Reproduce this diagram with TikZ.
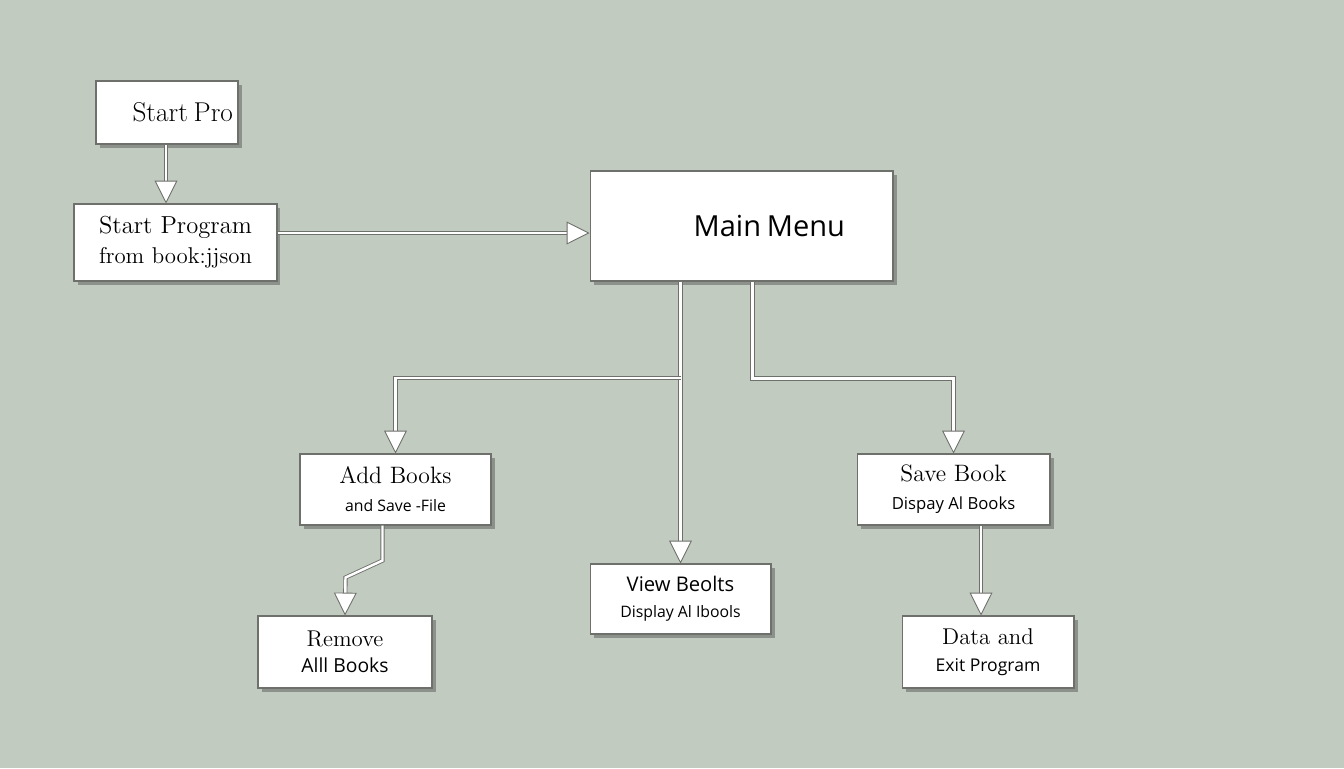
\documentclass[tikz,border=0pt]{standalone}
\usepackage{fontspec}
\newfontfamily\sansf{Open Sans}
\usetikzlibrary{arrows.meta,shadows}
\definecolor{bgsage}{RGB}{193,203,191}
\definecolor{edgegray}{RGB}{110,112,108}
\tikzset{
  box/.style={draw=edgegray, fill=white, line width=.6pt, inner sep=2pt,
    drop shadow={shadow xshift=2pt, shadow yshift=-2pt, opacity=.45, fill=black!70}},
  conn/.style={draw=edgegray, double=white, double distance=1.4pt, line width=.5pt,
    -{Triangle[length=13pt,width=13pt,fill=white]}}
}
\begin{document}
\begin{tikzpicture}[x=0.02cm,y=-0.02cm]
\fill[bgsage] (0,0) rectangle (1344,768);
\useasboundingbox (0,0) rectangle (1344,768);

% top left
\node[box, minimum width=2.84cm, minimum height=1.26cm, text width=2.64cm, align=right, inner xsep=0.1cm] (startpro) at (167,112.5)
  {\fontsize{15.5}{18}\selectfont Start Pro};
\node[box, minimum width=4.06cm, minimum height=1.54cm, align=center] (startprog) at (175.5,242.5)
  {\fontsize{14}{16}\selectfont Start Program\\[4pt] \fontsize{13}{15}\selectfont from book:jjson};

% main menu
\node[box, minimum width=6.06cm, minimum height=2.2cm, text width=4.14cm, align=right, inner xsep=0.96cm] (main) at (741.5,226)
  {\sansf\fontsize{16.5}{19}\selectfont Main Menu};

% second row
\node[box, minimum width=3.82cm, minimum height=1.42cm, align=center] (add) at (395.5,489.5)
  {{\fontsize{13.5}{16}\selectfont Add Books}\\[4pt]{\sansf\fontsize{9}{11}\selectfont and Save -File}};
\node[box, minimum width=3.86cm, minimum height=1.42cm, align=center] (save) at (953.5,489.5)
  {{\fontsize{13.5}{16}\selectfont Save Book}\\[4pt]{\sansf\fontsize{9.5}{11}\selectfont Dispay Al Books}};
\node[box, minimum width=3.62cm, minimum height=1.4cm, align=center] (view) at (680.5,599)
  {{\sansf\fontsize{11.5}{14}\selectfont View Beolts}\\[3pt]{\sansf\fontsize{9}{11}\selectfont Display Al Ibools}};

% bottom row
\node[box, minimum width=3.48cm, minimum height=1.44cm, align=center] (remove) at (345,652)
  {{\fontsize{13}{16}\selectfont Remove}\\[3pt]{\sansf\fontsize{11}{13}\selectfont Alll Books}};
\node[box, minimum width=3.44cm, minimum height=1.44cm, align=center] (data) at (988,652)
  {{\fontsize{13}{16}\selectfont Data and}\\[3pt]{\sansf\fontsize{10}{12}\selectfont Exit Program}};

% connectors
\coordinate (junc) at (681,378);
\coordinate (sp) at (166,0);
\coordinate (sd) at (981,0);
\draw[conn] (startpro.south -| sp) -- (startprog.north -| sp);
\draw[conn] (startprog.east |- 0,233) -- (main.west |- 0,233);
\draw[conn] (view.north |- main.south) -- (view.north);
\draw[conn] (junc) -| (add.north);
\draw[conn] (main.south west) ++(163,0) -- ++(0,97) -| (save.north);
\draw[conn] (add.south) ++(-13,0) -- ++(0,35) -- ++(-37,17) -- (remove.north);
\draw[conn] (save.south -| sd) -- (data.north -| sd);

\end{tikzpicture}
\end{document}
